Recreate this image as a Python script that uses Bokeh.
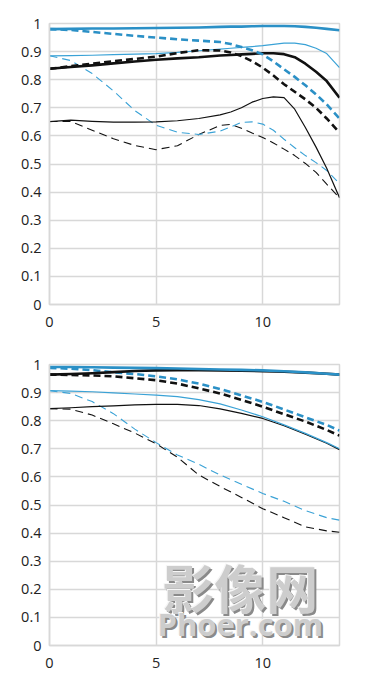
from bokeh.plotting import figure
from bokeh.layouts import column
from bokeh.models import Range1d, Label, FixedTicker
from bokeh.embed import file_html
from bokeh.resources import INLINE

# ---------------- data ----------------
x_ticks = [0, 5, 10]
y_ticks = [0, 0.1, 0.2, 0.3, 0.4, 0.5, 0.6, 0.7, 0.8, 0.9, 1.0]
y_tick_labels = ["0", "0.1", "0.2", "0.3", "0.4", "0.5", "0.6", "0.7", "0.8", "0.9", "1"]

# top chart
top_x = [0, 1, 2, 3, 4, 5, 6, 7, 8, 8.5, 9, 9.5, 10, 10.5, 11, 11.5, 12, 12.5, 13, 13.6]
top_blue_thick_solid = [0.980, 0.981, 0.982, 0.982, 0.983, 0.984, 0.985, 0.986, 0.988, 0.989,
                        0.989, 0.990, 0.991, 0.991, 0.991, 0.990, 0.988, 0.985, 0.981, 0.976]
top_blue_thick_dash = [0.980, 0.977, 0.970, 0.963, 0.956, 0.950, 0.944, 0.939, 0.934, 0.927,
                       0.916, 0.905, 0.890, 0.865, 0.837, 0.810, 0.780, 0.748, 0.712, 0.662]
top_blue_thin_solid = [0.885, 0.886, 0.887, 0.889, 0.891, 0.893, 0.897, 0.903, 0.909, 0.912,
                       0.915, 0.918, 0.921, 0.926, 0.930, 0.930, 0.925, 0.912, 0.893, 0.843]
top_black_thick_solid = [0.839, 0.845, 0.851, 0.858, 0.865, 0.871, 0.876, 0.880, 0.886, 0.888,
                         0.890, 0.892, 0.894, 0.894, 0.891, 0.880, 0.857, 0.828, 0.795, 0.736]
top_black_thick_dash = [0.839, 0.848, 0.857, 0.866, 0.874, 0.882, 0.895, 0.905, 0.904, 0.897,
                        0.884, 0.866, 0.843, 0.815, 0.784, 0.757, 0.730, 0.700, 0.662, 0.612]
top_black_thin_solid = [0.651, 0.656, 0.652, 0.649, 0.649, 0.650, 0.654, 0.662, 0.675, 0.685,
                        0.700, 0.720, 0.733, 0.739, 0.736, 0.695, 0.630, 0.560, 0.485, 0.380]
top_black_thin_dash = [0.651, 0.651, 0.620, 0.590, 0.566, 0.551, 0.565, 0.605, 0.637, 0.641,
                       0.627, 0.610, 0.594, 0.575, 0.553, 0.530, 0.502, 0.470, 0.428, 0.380]
top_blue_thin_dash = [0.885, 0.868, 0.822, 0.760, 0.690, 0.638, 0.613, 0.605, 0.617, 0.632,
                      0.648, 0.650, 0.642, 0.620, 0.588, 0.558, 0.530, 0.505, 0.477, 0.430]

# bottom chart
bot_x = [0, 1, 2, 3, 4, 5, 6, 7, 8, 9, 10, 11, 12, 13, 13.6]
bot_blue_thick_solid = [0.991, 0.991, 0.990, 0.989, 0.988, 0.987, 0.986, 0.984, 0.982, 0.981,
                        0.979, 0.976, 0.972, 0.967, 0.964]
bot_black_thick_solid = [0.964, 0.966, 0.969, 0.973, 0.977, 0.979, 0.980, 0.980, 0.979, 0.978,
                         0.976, 0.974, 0.971, 0.967, 0.964]
bot_blue_thick_dash = [0.988, 0.985, 0.980, 0.972, 0.966, 0.958, 0.947, 0.932, 0.913, 0.890,
                       0.867, 0.840, 0.812, 0.785, 0.765]
bot_black_thick_dash = [0.964, 0.963, 0.961, 0.958, 0.951, 0.944, 0.932, 0.915, 0.897, 0.874,
                        0.850, 0.823, 0.797, 0.767, 0.747]
bot_blue_thin_solid = [0.907, 0.905, 0.903, 0.899, 0.895, 0.891, 0.886, 0.875, 0.860, 0.838,
                       0.814, 0.785, 0.755, 0.722, 0.700]
bot_black_thin_solid = [0.843, 0.846, 0.850, 0.853, 0.856, 0.858, 0.858, 0.854, 0.842, 0.826,
                        0.808, 0.782, 0.752, 0.720, 0.697]
bot_blue_thin_dash = [0.907, 0.897, 0.868, 0.825, 0.770, 0.722, 0.678, 0.645, 0.607, 0.574,
                      0.541, 0.513, 0.480, 0.455, 0.446]
bot_black_thin_dash = [0.843, 0.841, 0.820, 0.789, 0.756, 0.718, 0.670, 0.607, 0.566, 0.527,
                       0.487, 0.455, 0.422, 0.408, 0.403]

watermark_cn = "影像网"
watermark_en = "Phoer.com"

BLUE_THICK = "#2b90c6"
BLUE_THIN = "#3aa2d6"
BLACK = "#111111"
GRID = "#d8d8d8"


def make_fig(height, min_top, min_bottom):
    p = figure(width=349, height=height, x_range=Range1d(0, 13.6), y_range=Range1d(0, 1),
               output_backend="svg", toolbar_location=None,
               min_border_left=49, min_border_top=min_top, min_border_right=10,
               min_border_bottom=min_bottom)
    p.background_fill_color = "white"
    p.border_fill_color = "white"
    p.outline_line_color = GRID
    p.outline_line_width = 1.5
    p.xaxis.ticker = FixedTicker(ticks=x_ticks)
    p.yaxis.ticker = FixedTicker(ticks=y_ticks)
    p.yaxis.major_label_overrides = {t: l for t, l in zip(y_ticks, y_tick_labels)}
    for ax in (p.xaxis, p.yaxis):
        ax.axis_line_color = GRID
        ax.axis_line_width = 1.5
        ax.major_tick_line_color = None
        ax.minor_tick_line_color = None
        ax.major_tick_in = 0
        ax.major_tick_out = 0
        ax.major_label_text_font = "Open Sans"
        ax.major_label_text_font_size = "14.5px"
        ax.major_label_text_color = "#222222"
    p.yaxis.major_label_standoff = 8
    p.xaxis.major_label_standoff = 12
    p.xgrid.ticker = FixedTicker(ticks=x_ticks)
    p.ygrid.ticker = FixedTicker(ticks=y_ticks)
    p.xgrid.grid_line_color = GRID
    p.ygrid.grid_line_color = GRID
    p.xgrid.grid_line_width = 1.5
    p.ygrid.grid_line_width = 1.5
    return p


def draw(p, x, series):
    for ys, color, width, dash in series:
        p.line(x, ys, line_color=color, line_width=width, line_dash=dash,
               line_join="round", line_cap="butt")


p1 = make_fig(349, 23, 45)
draw(p1, top_x, [
    (top_black_thin_dash, BLACK, 1.1, "8 5"),
    (top_blue_thin_dash, BLUE_THIN, 1.1, "8 5"),
    (top_black_thin_solid, BLACK, 1.2, "solid"),
    (top_blue_thin_solid, BLUE_THIN, 1.2, "solid"),
    (top_black_thick_solid, BLACK, 2.6, "solid"),
    (top_black_thick_dash, BLACK, 2.6, "7 4"),
    (top_blue_thick_dash, BLUE_THICK, 2.6, "7 4"),
    (top_blue_thick_solid, BLUE_THICK, 2.6, "solid"),
])

p2 = make_fig(324, 15, 28)
draw(p2, bot_x, [
    (bot_black_thin_dash, BLACK, 1.1, "8 5"),
    (bot_blue_thin_dash, BLUE_THIN, 1.1, "8 5"),
    (bot_black_thin_solid, BLACK, 1.2, "solid"),
    (bot_blue_thin_solid, BLUE_THIN, 1.2, "solid"),
    (bot_black_thick_dash, BLACK, 2.6, "7 4"),
    (bot_blue_thick_dash, BLUE_THICK, 2.6, "7 4"),
    (bot_black_thick_solid, BLACK, 2.6, "solid"),
    (bot_blue_thick_solid, BLUE_THICK, 2.6, "solid"),
])

# embossed watermark
for txt, yy, font, size in [(watermark_cn, 0.21, "Noto Sans CJK SC", "52px"),
                            (watermark_en, 0.075, "Open Sans", "31px")]:
    for dx, dy, col in [(2, -2, "#8a8a8a"), (-1, 1, "#f6f6f6"), (0, 0, "#cdcdcd")]:
        p2.add_layout(Label(x=8.95, y=yy, text=txt, text_font=font, text_font_size=size,
                            text_font_style="bold", text_color=col, text_align="center",
                            text_baseline="middle", x_offset=dx, y_offset=dy))

layout = column(p1, p2, spacing=0)
open("out.html", "w").write(file_html(layout, INLINE))
